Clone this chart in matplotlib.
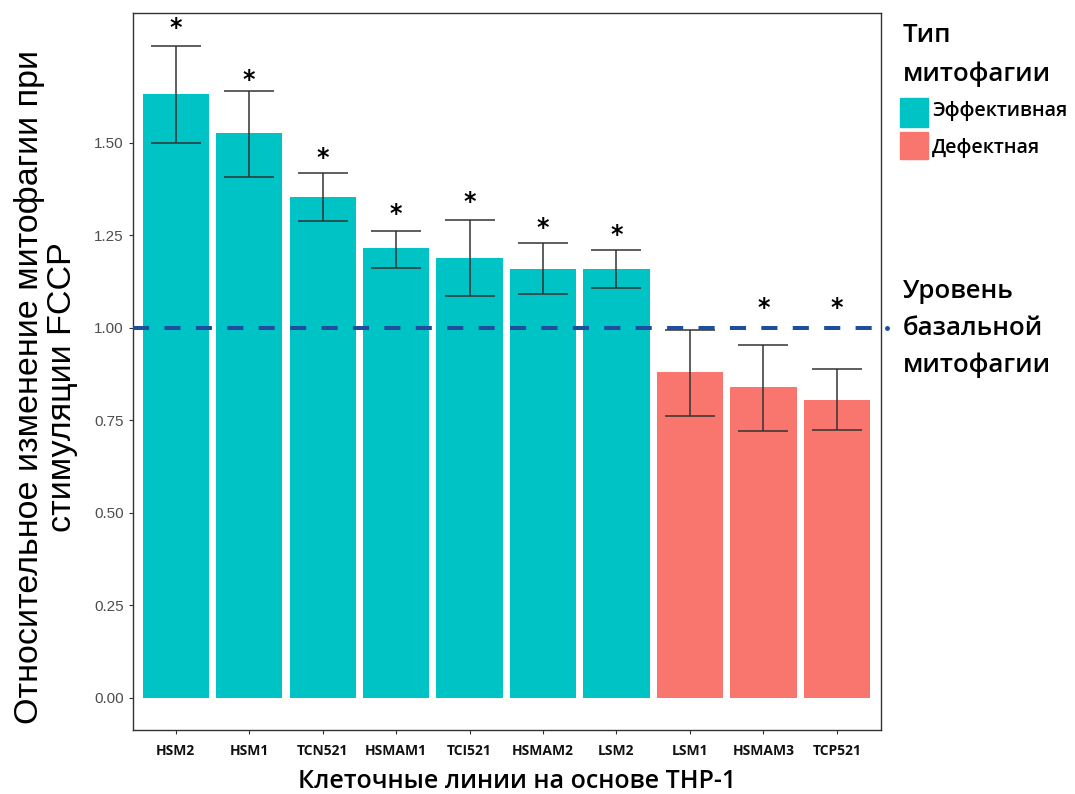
import numpy as np
import matplotlib
matplotlib.use("Agg")
import matplotlib.pyplot as plt
from matplotlib.patches import Rectangle

# Relative change of mitophagy after FCCP stimulation, THP-1 based lines
lines = ["HSM2", "HSM1", "TCN521", "HSMAM1", "TCI521",
         "HSMAM2", "LSM2", "LSM1", "HSMAM3", "TCP521"]
means = [1.632, 1.526, 1.355, 1.215, 1.189, 1.159, 1.159, 0.880, 0.839, 0.805]
err_low = [1.499, 1.409, 1.289, 1.163, 1.086, 1.092, 1.108, 0.763, 0.722, 0.724]
err_high = [1.763, 1.639, 1.419, 1.263, 1.292, 1.230, 1.211, 0.993, 0.953, 0.888]
effective = [True, True, True, True, True, True, True, False, False, False]
# height of the significance asterisk, None where there is none
star_y = [1.824, 1.684, 1.473, 1.322, 1.354, 1.284, 1.265, None, 1.068, 1.068]
basal_level = 1.0

yticks = [0.00, 0.25, 0.50, 0.75, 1.00, 1.25, 1.50]

teal = "#00C3C6"
salmon = "#F8766D"
ok_label = "Эффективная"
bad_label = "Дефектная"

W, H = 1075, 794
fig = plt.figure(figsize=(W / 100, H / 100), dpi=100)
ax = fig.add_axes([133 / W, 1 - 730 / H, (881 - 133) / W, (730 - 13) / H])

x = np.arange(len(lines))
colors = [teal if e else salmon for e in effective]
ax.bar(x, means, width=0.9, color=colors, zorder=2)

yerr = [np.array(means) - np.array(err_low), np.array(err_high) - np.array(means)]
ax.errorbar(x, means, yerr=yerr, fmt="none", ecolor="#333333", elinewidth=1.1,
            capsize=18, capthick=1.1, zorder=3)

for xi, sy in zip(x, star_y):
    if sy is not None:
        # glyph sits high in its box, so nudge the anchor down a little
        ax.text(xi, sy - 0.014, "*", ha="center", va="center", fontsize=17,
                fontweight="bold", color="black", zorder=4)

# basal mitophagy level, runs slightly past the right frame
ax.plot([-0.58, 9.6], [basal_level, basal_level], color="#1F4F9C", lw=2.9,
        dashes=(4, 3.8), clip_on=False, zorder=5)
ax.plot([9.68], [basal_level], marker="o", ms=2.5, color="#1F4F9C", clip_on=False)

ax.set_xlim(-0.58, 9.6)
ax.set_ylim(-0.087, 1.851)
ax.set_yticks(yticks)
ax.set_yticklabels([f"{t:.2f}" for t in yticks], fontsize=11,
                   family="Liberation Sans", color="#4D4D4D")
ax.set_xticks(x)
ax.set_xticklabels(lines, fontsize=10, family="Open Sans", fontweight="bold",
                   color="#111111")
ax.tick_params(axis="both", length=3, color="#333333", width=0.8)
ax.tick_params(axis="x", pad=7)
for s in ax.spines.values():
    s.set_color("#333333")
    s.set_linewidth(1.0)

ax.set_ylabel("Относительное изменение митофагии при\nстимуляции FCCP",
              fontsize=24.5, family="Liberation Sans", linespacing=1.05)
ax.yaxis.set_label_coords(-0.074, 0.478)
ax.set_xlabel("Клеточные линии на основе THP-1", fontsize=18, family="Open Sans",
              fontweight="semibold")
ax.xaxis.set_label_coords(0.513, -0.054)

# legend block on the right
head = dict(fontsize=18.5, family="Open Sans", fontweight="semibold", va="center")
fig.text(903 / W, 1 - 35 / H, "Тип", **head)
fig.text(903 / W, 1 - 74 / H, "митофагии", **head)
fig.patches.append(Rectangle((900 / W, 1 - 127 / H), 28 / W, 29 / H,
                             transform=fig.transFigure, color=teal))
fig.patches.append(Rectangle((900 / W, 1 - 159 / H), 28 / W, 27 / H,
                             transform=fig.transFigure, color=salmon))
fig.text(932 / W, 1 - 111 / H, ok_label, fontsize=14, family="Open Sans",
         fontweight="semibold", va="center")
fig.text(932 / W, 1 - 148 / H, bad_label, fontsize=14, family="Open Sans",
         fontweight="semibold", va="center")

for yy, t in zip([291, 328, 365], ["Уровень", "базальной", "митофагии"]):
    fig.text(903 / W, 1 - yy / H, t, **head)

fig.savefig("out.png", dpi=100)
